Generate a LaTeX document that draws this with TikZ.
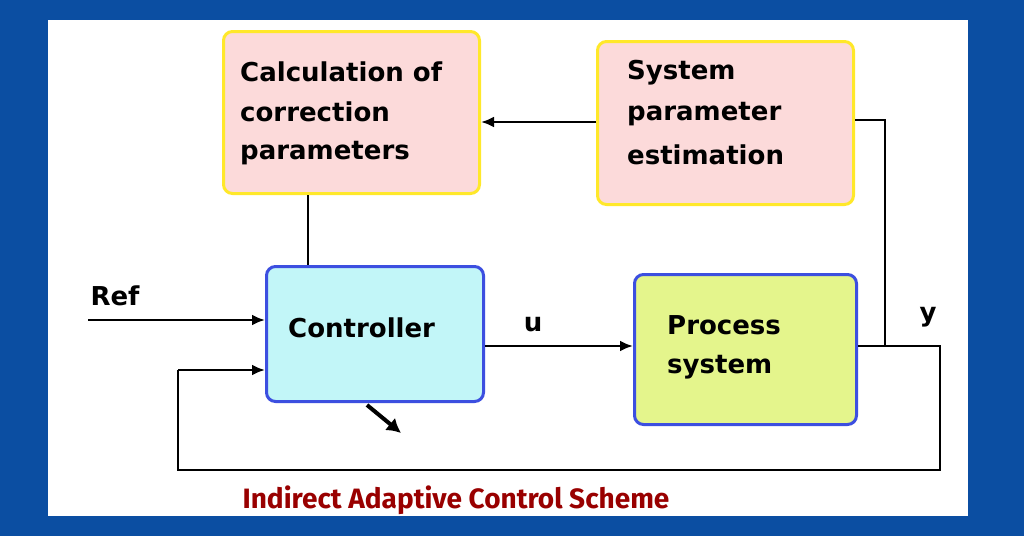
\documentclass[tikz,border=0pt]{standalone}
\usepackage{fontspec}
\setmainfont{DejaVu Sans}
\newfontfamily\capfont{Fira Sans}
\usetikzlibrary{arrows.meta}
\definecolor{bg}{HTML}{0B4EA2}
\definecolor{pinkf}{HTML}{FCDADA}
\definecolor{yelb}{HTML}{FFE82A}
\definecolor{cyanf}{HTML}{C2F6F8}
\definecolor{limef}{HTML}{E4F58C}
\definecolor{blueb}{HTML}{3C4FE0}
\begin{document}
\begin{tikzpicture}[x=1pt,y=-1pt,
 box/.style={draw,line width=3pt,rounded corners=9pt,anchor=north west,inner sep=0pt},
 t/.style={font=\bfseries\fontsize{26}{30}\selectfont,anchor=west,inner sep=0pt},
 ln/.style={line width=2.6pt},
 arr/.style={ln,-{Latex[length=13pt,width=11pt]}}]
\useasboundingbox (0,0) rectangle (1024,536);
\fill[bg] (0,0) rectangle (1024,536);
\fill[white] (48,20) rectangle (968,516);
\node[box,draw=yelb,fill=pinkf,minimum width=256pt,minimum height=162pt] (calc) at (222,30) {};
\node[t] (c1) at (240,72) {Calculation of};
\node[t] (c2) at (240,112) {correction};
\node[t] (c3) at (240,153) {parameters};
\node[box,draw=yelb,fill=pinkf,minimum width=256pt,minimum height=163pt] (spe) at (596,40) {};
\node[t] (s1) at (627,73) {System};
\node[t] (s2) at (627,114) {parameter};
\node[t] (s3) at (627,155) {estimation};
\node[box,draw=blueb,fill=cyanf,minimum width=217pt,minimum height=135pt] (ctrl) at (265,265) {};
\node[t] (ct) at (288,328) {Controller};
\node[box,draw=blueb,fill=limef,minimum width=222pt,minimum height=150pt] (proc) at (633,273) {};
\node[t] (p1) at (667,325) {Process};
\node[t] (p2) at (667,367) {system};
\coordinate (refin) at (88,320);
\coordinate (tap) at (885,346);
\coordinate (yend) at (940,346);
\draw[arr] (spe.west |- 0,122) -- (calc.east |- 0,122);
\draw[ln] (spe.east |- 0,120) -- (885,120) -- (tap);
\draw[ln] (calc.south -| 308,0) -- (ctrl.north -| 308,0);
\draw[arr] (refin) -- (ctrl.west |- refin);
\draw[arr] (ctrl.east |- 0,346) -- (proc.west |- 0,346);
\draw[ln] (proc.east |- 0,346) -- (yend) -- (940,470) -- (178,470) -- (178,370);
\draw[arr] (178,370) -- (ctrl.west |- 0,370);
\draw[line width=4pt,-{Latex[length=14pt,width=16pt]}] (367,405) -- (401,433);
\node[t,anchor=center] (ref) at (115,296) {Ref};
\node[t,anchor=center] (u) at (533,325) {u};
\node[t,anchor=center] (y) at (928,317) {y};
\node[font=\capfont\bfseries\fontsize{28}{34}\selectfont,text=red!60!black] (cap) at (456,500) {Indirect Adaptive Control Scheme};
\end{tikzpicture}
\end{document}
